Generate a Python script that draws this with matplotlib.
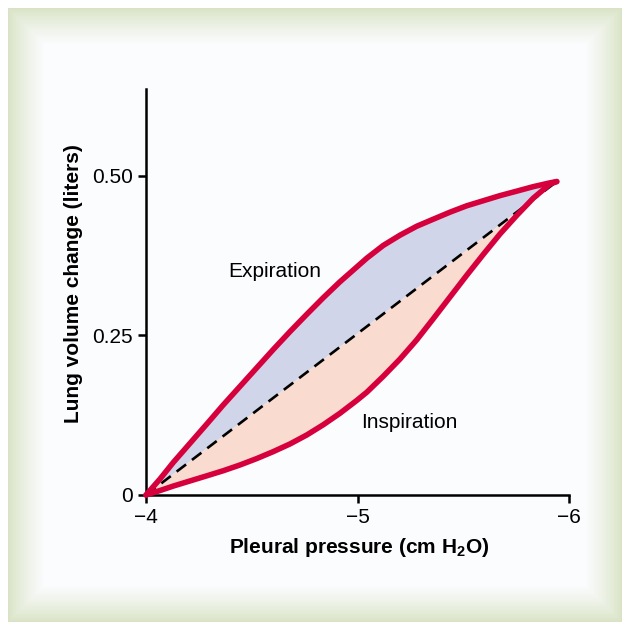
import numpy as np
import matplotlib
matplotlib.use("Agg")
import matplotlib.pyplot as plt

plt.rcParams["font.family"] = ["Liberation Sans", "DejaVu Sans"]
plt.rcParams["mathtext.fontset"] = "custom"
plt.rcParams["mathtext.rm"] = "Liberation Sans"
plt.rcParams["mathtext.bf"] = "Liberation Sans:bold"

# pleural pressure (cm H2O) and lung volume change (liters)
pressure = [-4.000, -4.066, -4.129, -4.208, -4.287, -4.365, -4.444, -4.523,
            -4.602, -4.681, -4.760, -4.838, -4.917, -4.996, -5.044, -5.122,
            -5.201, -5.280, -5.358, -5.437, -5.516, -5.595, -5.674, -5.753,
            -5.831, -5.910, -5.942]
expiration = [0.000, 0.025, 0.051, 0.081, 0.111, 0.141, 0.170, 0.199,
              0.228, 0.256, 0.283, 0.309, 0.334, 0.357, 0.371, 0.391,
              0.407, 0.421, 0.432, 0.443, 0.453, 0.461, 0.469, 0.476,
              0.483, 0.489, 0.491]
inspiration = [0.000, 0.007, 0.014, 0.022, 0.030, 0.038, 0.047, 0.057,
               0.068, 0.080, 0.094, 0.110, 0.128, 0.148, 0.161, 0.186,
               0.213, 0.243, 0.276, 0.310, 0.344, 0.377, 0.409, 0.438,
               0.465, 0.487, 0.491]
compliance_x = [-4.0, -5.942]
compliance_y = [0.0, 0.491]

xticks = [-4, -5, -6]
xticklabels = ["\u22124", "\u22125", "\u22126"]
yticks = [0, 0.25, 0.50]
yticklabels = ["0", "0.25", "0.50"]

RED = "#d6003c"
BLUE_FILL = "#d1d5e9"
PEACH_FILL = "#f9dccf"
PANEL = "#fbfcfe"
FRAME = np.array([0.85, 0.89, 0.77])

W, H = 630, 629
fig = plt.figure(figsize=(W / 100, H / 100), dpi=100)

# framed background with a soft green bevel
yy, xx = np.mgrid[0:H, 0:W].astype(float)
x0, x1, y0, y1 = 8, 621, 8, 621
inside = (xx >= x0) & (xx <= x1) & (yy >= y0) & (yy <= y1)
d = np.minimum.reduce([xx - x0, x1 - xx, yy - y0, y1 - yy])
t = np.clip(d / 36.0, 0, 1) ** 0.8
panel = np.array(matplotlib.colors.to_rgb(PANEL))
img = FRAME[None, None, :] * (1 - t[..., None]) + panel[None, None, :] * t[..., None]
img[~inside] = 1.0
bg = fig.add_axes([0, 0, 1, 1])
bg.imshow(img, aspect="auto", interpolation="bilinear")
bg.axis("off")

ax = fig.add_axes([146 / W, (H - 495) / H, (569 - 146) / W, (495 - 89) / H])
ax.patch.set_alpha(0)

x = np.array(pressure)
up = np.array(expiration)
lo = np.array(inspiration)
cx = np.array(compliance_x)
cy = np.array(compliance_y)

ax.fill(np.r_[x, cx[::-1]], np.r_[up, cy[::-1]], color=BLUE_FILL, lw=0, zorder=1)
ax.fill(np.r_[x, cx[::-1]], np.r_[lo, cy[::-1]], color=PEACH_FILL, lw=0, zorder=1)
ax.plot(cx, cy, color="black", lw=1.9, dashes=(4.5, 2.8), zorder=2)
for series in (up, lo):
    ax.plot(x, series, color=RED, lw=4.0, solid_capstyle="round",
            solid_joinstyle="round", zorder=3, clip_on=False)

ax.set_xlim(-4, -6)
ax.set_ylim(0, 0.636)
ax.spines["top"].set_visible(False)
ax.spines["right"].set_visible(False)
for s in ("left", "bottom"):
    ax.spines[s].set_linewidth(1.8)
ax.set_xticks(xticks, xticklabels)
ax.set_yticks(yticks, yticklabels)
ax.tick_params(direction="out", length=5.5, width=1.8, labelsize=15, pad=4)

ax.set_xlabel(r"Pleural pressure (cm H$_\mathbf{2}$O)", fontsize=15,
              fontweight="bold")
ax.set_ylabel("Lung volume change (liters)", fontsize=15, fontweight="bold")
ax.xaxis.set_label_coords(0.504, -0.102)
ax.yaxis.set_label_coords(-0.148, 0.522)

ax.text(-4.61, 0.350, "Expiration", fontsize=15, ha="center", va="center")
ax.text(-5.243, 0.114, "Inspiration", fontsize=15, ha="center", va="center")

fig.savefig("out.png", dpi=100)
